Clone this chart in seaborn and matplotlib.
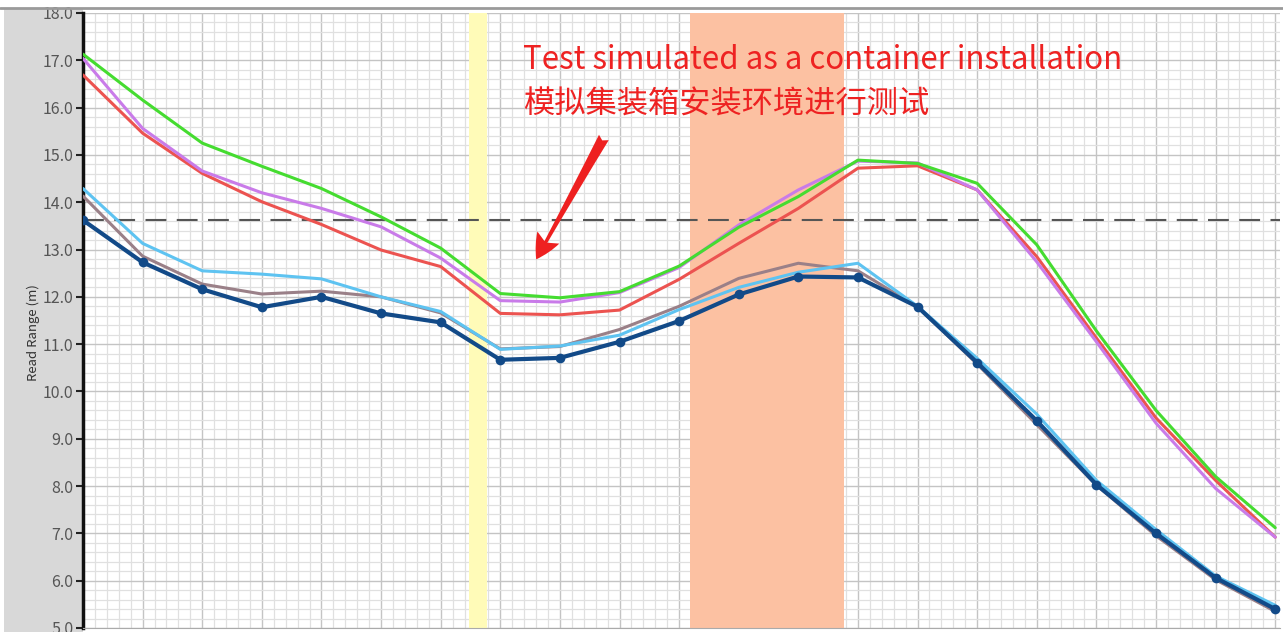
import numpy as np
import pandas as pd
import matplotlib.pyplot as plt
from matplotlib.patches import Rectangle
from matplotlib.ticker import MultipleLocator
import seaborn as sns

# Datos (rango de lectura por posicion)
positions = list(range(21))
green = [17.13, 16.16, 15.25, 14.76, 14.29, 13.69, 13.03, 12.07, 11.98, 12.11, 12.65,
         13.47, 14.12, 14.89, 14.82, 14.40, 13.10, 11.28, 9.60, 8.20, 7.12]
violet = [17.04, 15.56, 14.66, 14.20, 13.87, 13.48, 12.82, 11.92, 11.89, 12.09, 12.62,
          13.52, 14.26, 14.87, 14.83, 14.26, 12.74, 11.05, 9.33, 7.95, 6.92]
red = [16.69, 15.46, 14.61, 14.01, 13.53, 12.99, 12.64, 11.65, 11.62, 11.72, 12.37,
       13.13, 13.87, 14.72, 14.77, 14.26, 12.85, 11.13, 9.44, 8.12, 6.92]
light_blue = [14.29, 13.13, 12.55, 12.48, 12.38, 12.00, 11.69, 10.89, 10.96, 11.19, 11.73,
              12.20, 12.52, 12.71, 11.80, 10.70, 9.52, 8.12, 7.08, 6.10, 5.48]
brown = [14.13, 12.86, 12.27, 12.06, 12.12, 12.00, 11.66, 10.90, 10.95, 11.31, 11.80,
         12.39, 12.71, 12.55, 11.79, 10.58, 9.30, 8.02, 6.95, 6.02, 5.35]
dark_blue = [13.62, 12.73, 12.16, 11.78, 12.00, 11.65, 11.46, 10.67, 10.71, 11.05, 11.49,
             12.05, 12.43, 12.41, 11.79, 10.61, 9.38, 8.03, 7.00, 6.06, 5.40]

threshold = 13.62
yellow_band = (6.48, 6.78)
orange_band = (10.19, 12.77)
y_ticks = [5, 6, 7, 8, 9, 10, 11, 12, 13, 14, 15, 16, 17, 18]

sns.set_style('white')
plt.rcParams['font.family'] = ['Noto Sans CJK SC', 'DejaVu Sans']

fig = plt.figure(figsize=(12.83, 6.32), dpi=100)
fig.patch.set_facecolor('white')
fig.patches.append(Rectangle((4 / 1283, 0), 79 / 1283, 1 - 8 / 632, transform=fig.transFigure,
                             facecolor='#d8d8d8', edgecolor='none', zorder=-1))
fig.add_artist(plt.Line2D([0, 1], [1 - 8 / 632, 1 - 8 / 632], transform=fig.transFigure,
                          color='#9a9a9a', lw=2))

ax = fig.add_axes([83 / 1283, 4 / 632, 1197 / 1283, 615 / 632])
ax.set_facecolor('white')

# Bandas
ax.axvspan(*yellow_band, color='#fffbb8', zorder=1.5, lw=0)
ax.axvspan(*orange_band, color='#fcc1a2', zorder=1.5, lw=0)

# Linea de umbral
ax.axhline(threshold, color='#555555', lw=1.5, dashes=(10, 5), zorder=2)

series = [
    (red, '#ec5350', 2.2),
    (violet, '#c97be9', 2.2),
    (green, '#45dc30', 2.2),
    (brown, '#9a8088', 2.2),
    (light_blue, '#5ec3f1', 2.2),
]
for vals, col, lw in series:
    sns.lineplot(x=positions, y=vals, color=col, lw=lw, ax=ax, zorder=3)

sns.lineplot(x=positions, y=dark_blue, color='#124a88', lw=3, marker='o', markersize=7,
             markeredgewidth=0, ax=ax, zorder=4)

ax.set_xlim(0, 20.08)
ax.set_ylim(5, 18)
ax.set_yticks(y_ticks)
ax.set_yticklabels(['%.1f' % t for t in y_ticks])
ax.xaxis.set_major_locator(MultipleLocator(1))
ax.xaxis.set_minor_locator(MultipleLocator(0.2))
ax.yaxis.set_minor_locator(MultipleLocator(0.2))
ax.set_xticklabels([])
ax.grid(which='major', color='#c4c4c4', lw=1)
ax.grid(which='minor', color='#e0e0e0', lw=0.9)
ax.set_axisbelow(True)

ax.tick_params(axis='y', which='major', length=5, width=1.5, color='#222222',
               labelsize=11.5, labelcolor='#555555', pad=2, left=True)
ax.tick_params(axis='y', which='minor', length=0)
ax.tick_params(axis='x', which='both', length=0)

for s in ['top', 'right']:
    ax.spines[s].set_visible(False)
ax.spines['left'].set_color('#111111')
ax.spines['left'].set_linewidth(2.5)
ax.spines['bottom'].set_color('#aaaaaa')

ax.set_ylabel('Read Range (m)', fontsize=9.5, color='#333333')
ax.yaxis.set_label_coords(-0.036, 0.48)
ax.set_xlabel('')

# Anotacion
fig.text(523 / 1283, 1 - 60 / 632, 'Test simulated as a container installation',
         color='#ee2222', fontsize=22.5, va='center', ha='left')
fig.text(523 / 1283, 1 - 104 / 632, '模拟集装箱安装环境进行测试',
         color='#ee2222', fontsize=22.5, va='center', ha='left')
ax.annotate('', xy=(7.58, 12.74), xytext=(8.76, 15.42),
            arrowprops=dict(arrowstyle='fancy,head_length=0.9,head_width=0.9,tail_width=0.4',
                            color='#ee2020', lw=0, mutation_scale=20), zorder=5)

fig.savefig('out.png', dpi=100)
